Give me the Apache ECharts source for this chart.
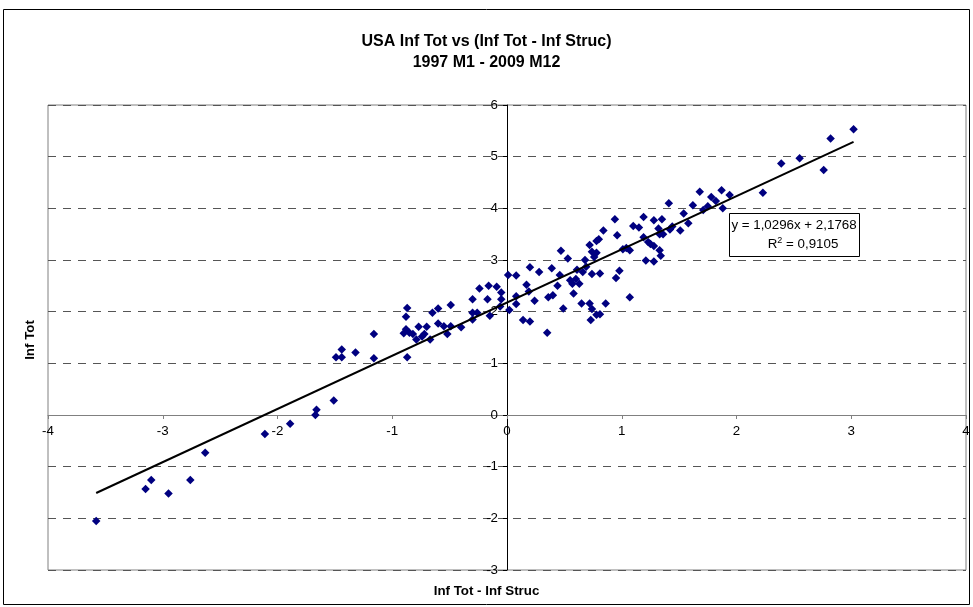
<!DOCTYPE html>
<html>
<head>
<meta charset="utf-8">
<script src="https://cdn.jsdelivr.net/npm/echarts@6/dist/echarts.min.js"></script>
<style>html,body{margin:0;padding:0;background:#fff;}#c{width:973px;height:607px;}</style>
</head>
<body>
<div id="c"></div>
<script>
const titleText = 'USA Inf Tot vs (Inf Tot - Inf Struc)\n1997 M1 - 2009 M12';
const xAxisTitle = 'Inf Tot - Inf Struc';
const yAxisTitle = 'Inf Tot';
const xTicks = [-4, -3, -2, -1, 0, 1, 2, 3, 4];
const yTicks = [-3, -2, -1, 0, 1, 2, 3, 4, 5, 6];
const slope = 1.0296;
const intercept = 2.1768;
const r2 = '0,9105';

const xValues = [
 -3.58,-3.15,-3.10,-2.95,-2.76,-2.63,-2.11,-1.89,-1.67,-1.66,-1.51,-1.49,-1.44,-1.44,-1.32,-1.16,-1.16,-0.87,
 -0.87,-0.88,-0.88,-0.90,-0.85,-0.82,-0.77,-0.79,-0.74,-0.72,-0.70,-0.67,-0.65,-0.60,-0.60,-0.55,-0.52,-0.49,-0.49,-0.40,
 -0.30,-0.30,-0.30,-0.26,-0.24,-0.17,-0.16,-0.15,-0.09,-0.05,-0.05,-0.06,0.02,0.01,0.08,0.08,0.08,0.14,0.20,0.17,0.20,0.19,
 0.24,0.28,0.35,0.36,0.40,0.39,0.44,0.46,0.47,0.49,0.53,0.55,0.57,0.58,0.60,0.61,0.63,0.65,0.66,0.69,0.68,0.72,0.72,0.74,
 0.74,0.73,0.74,0.76,0.78,0.78,0.80,0.78,0.81,0.81,0.86,0.84,0.94,0.96,0.95,0.98,1.01,1.04,1.07,1.07,1.10,1.15,1.19,1.19,
 1.21,1.23,1.25,1.28,1.28,1.28,1.32,1.33,1.34,1.35,1.36,1.33,1.41,1.42,1.44,1.51,1.54,1.58,1.62,1.68,1.71,1.75,1.78,1.82,
 1.87,1.88,1.94,2.23,2.39,2.55,2.76,2.82,3.02
];
const yValues = [
 -2.05,-1.43,-1.26,-1.52,-1.26,-0.73,-0.37,-0.17,0.00,0.10,0.28,1.12,1.12,1.27,1.21,1.57,1.10,1.12,
 2.07,1.90,1.66,1.58,1.59,1.57,1.71,1.46,1.52,1.57,1.71,1.46,1.98,2.06,1.77,1.72,1.57,1.72,2.13,1.70,
 2.24,1.98,1.85,1.98,2.45,2.24,2.50,1.92,2.48,2.37,2.24,2.10,2.03,2.71,2.70,2.30,2.15,1.84,1.81,2.52,2.86,2.39,
 2.21,2.77,1.59,2.28,2.32,2.84,2.50,2.71,3.18,2.06,3.03,2.61,2.54,2.35,2.63,2.81,2.54,2.16,2.77,2.87,3.00,2.16,3.29,2.05,
 2.73,1.84,3.16,3.06,3.14,3.37,3.40,1.94,1.95,2.74,2.16,3.57,3.79,3.48,2.65,2.79,3.21,3.23,3.19,2.28,3.66,3.63,3.83,3.44,
 2.99,3.35,3.31,2.97,3.27,3.77,3.61,3.19,3.08,3.79,3.50,3.50,4.10,3.59,3.65,3.57,3.90,3.71,4.06,4.32,3.97,4.04,4.22,4.14,
 4.35,4.00,4.26,4.30,4.87,4.97,4.74,5.35,5.53
];

const points = xValues.map((x, i) => [x, yValues[i]]);
const xMinData = Math.min(...xValues);
const xMaxData = Math.max(...xValues);
const trend = [[xMinData, slope * xMinData + intercept], [xMaxData, slope * xMaxData + intercept]];
const fmt = v => v.toFixed(4).replace('.', ',');

const GRID = { left: 48, right: 7, top: 105, bottom: 37 };
const W = 973, H = 607;
const plotW = W - GRID.left - GRID.right;
const plotH = H - GRID.top - GRID.bottom;
const xMin = xTicks[0], xMax = xTicks[xTicks.length - 1];
const yMin = yTicks[0], yMax = yTicks[yTicks.length - 1];
// offsets that put each axis (line, ticks, labels) at the other axis' zero
const yAxisOffset = -((0 - xMin) / (xMax - xMin)) * plotW;
const xAxisOffset = -((0 - yMin) / (yMax - yMin)) * plotH;

const chart = echarts.init(document.getElementById('c'));
const FONT = 'Arial, "Liberation Sans", sans-serif';
chart.setOption({
  animation: false,
  backgroundColor: '#fff',
  title: {
    text: titleText,
    left: 'center',
    top: 26,
    textStyle: { fontFamily: FONT, fontSize: 16, fontWeight: 'bold', color: '#000', lineHeight: 21 }
  },
  grid: Object.assign({ show: true, borderColor: '#808080', borderWidth: 1, backgroundColor: 'transparent' }, GRID),
  xAxis: {
    type: 'value', min: xMin, max: xMax, interval: 1, position: 'bottom', offset: xAxisOffset,
    axisLine: { onZero: false, lineStyle: { color: '#808080', width: 1 } },
    axisTick: { show: true, length: 4, lineStyle: { color: '#808080' } },
    splitLine: { show: false },
    axisLabel: { margin: 10, fontFamily: FONT, fontSize: 13.33, color: '#000', showMinLabel: true, showMaxLabel: true }
  },
  yAxis: {
    type: 'value', min: yMin, max: yMax, interval: 1, position: 'left', offset: yAxisOffset,
    axisLine: { onZero: false, lineStyle: { color: '#000', width: 1 } },
    axisTick: { show: true, length: 4, lineStyle: { color: '#000' } },
    splitLine: { show: true, lineStyle: { type: [8, 7], color: '#555', width: 1 } },
    axisLabel: { margin: 9, fontFamily: FONT, fontSize: 13.33, color: '#000' }
  },
  series: [
    {
      type: 'scatter', data: points, symbol: 'diamond', symbolSize: 8.5,
      itemStyle: { color: '#000080', opacity: 1 }, z: 3
    },
    {
      type: 'line', data: trend, symbol: 'none', lineStyle: { color: '#000', width: 2 }, z: 4
    }
  ],
  graphic: [
    { type: 'rect', shape: { x: 3.5, y: 9.5, width: 966, height: 595 }, style: { fill: 'none', stroke: '#000', lineWidth: 1 }, z: -1, silent: true },
    { type: 'text', left: 'center', top: 585, style: { text: xAxisTitle, font: 'bold 13.33px ' + FONT, fill: '#000' } },
    { type: 'text', x: 30, y: 340, rotation: Math.PI / 2, style: { text: yAxisTitle, font: 'bold 13.33px ' + FONT, fill: '#000', align: 'center', verticalAlign: 'middle' } },
    {
      type: 'group', x: 729, y: 213, z: 10,
      children: [
        { type: 'rect', shape: { x: 0.5, y: 0.5, width: 130, height: 43 }, style: { fill: '#fff', stroke: '#000', lineWidth: 1 } },
        { type: 'text', x: 65, y: 12, style: { text: 'y = ' + fmt(slope) + 'x + ' + fmt(intercept), font: '13.33px ' + FONT, fill: '#000', align: 'center', verticalAlign: 'middle' } },
        { type: 'text', x: 74, y: 31, style: {
          text: '{a|R}{s|2}{a| = ' + r2 + '}',
          align: 'center', verticalAlign: 'middle',
          rich: {
            a: { fontFamily: FONT, fontSize: 13.33, color: '#000' },
            s: { fontFamily: FONT, fontSize: 9, color: '#000', verticalAlign: 'top', padding: [0, 0, 6, 0] }
          }
        } }
      ]
    }
  ]
});
</script>
</body>
</html>
